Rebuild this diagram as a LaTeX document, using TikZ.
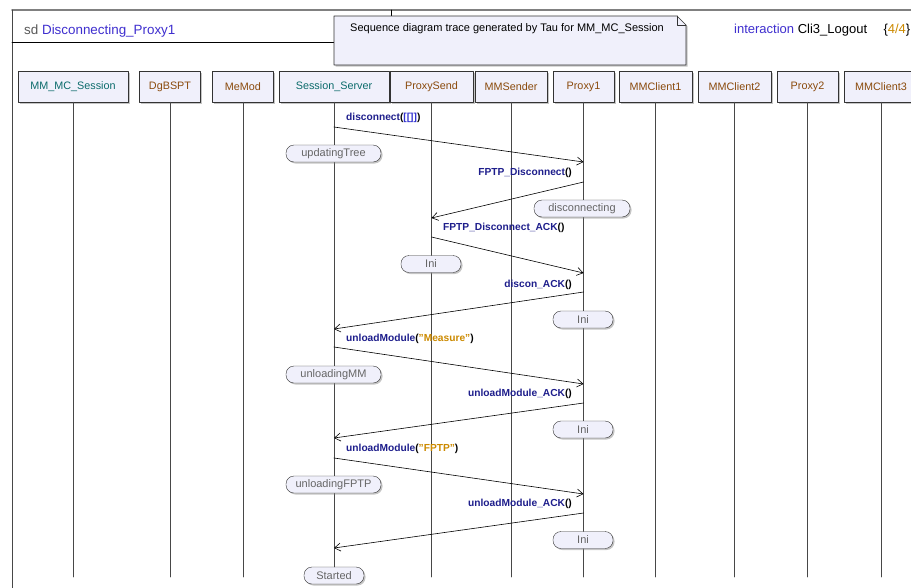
\documentclass[tikz,border=0pt]{standalone}
\usepackage{fontspec}
\setmainfont{Liberation Sans}
\usepackage{tikz}
\usetikzlibrary{arrows.meta,shadows}
\definecolor{boxfill}{HTML}{F0F0FB}
\definecolor{framegray}{HTML}{808080}
\definecolor{lifegray}{HTML}{474747}
\definecolor{teal}{HTML}{0B6B6B}
\definecolor{brown}{HTML}{8A4A0C}
\definecolor{navy}{HTML}{1E1E8C}
\definecolor{argblue}{HTML}{3333D0}
\definecolor{strorange}{HTML}{CC8A00}
\definecolor{titleblue}{HTML}{3F2FCF}
\definecolor{stategray}{HTML}{666666}
\tikzset{
  every picture/.style={line join=round, line cap=round},
  head/.style={draw=black!80, fill=boxfill, minimum height=31pt, inner sep=0pt,
    font=\fontsize{10.8}{12}\selectfont,
    drop shadow={shadow xshift=1.5pt, shadow yshift=-1.5pt, opacity=.45}},
  life/.style={draw=lifegray, line width=0.8pt},
  state/.style={draw=black!80, fill=boxfill, rounded corners=8pt, minimum height=17pt,
    inner sep=0pt, text=stategray, font=\fontsize{11}{12}\selectfont,
    drop shadow={shadow xshift=1.5pt, shadow yshift=-1.5pt, opacity=.45}},
  msg/.style={draw=black, line width=0.6pt, -{Straight Barb[length=6pt, width=8pt]}},
  msglbl/.style={inner sep=0pt, font=\fontsize{10.2}{12}\selectfont\bfseries},
}
\newcommand{\mname}[1]{\textcolor{navy}{#1}}
\newcommand{\sarg}[1]{\textcolor{strorange}{"#1"}}

\begin{document}
\begin{tikzpicture}[x=1pt,y=-1pt]
\useasboundingbox (0,0) rectangle (911,587);
\fill[white] (0,0) rectangle (911,587);

\draw[framegray, line width=1.8pt] (12,10) -- (915,10);
\draw[lifegray, line width=0.9pt] (12,10) -- (12,590);
\draw[black, line width=0.6pt] (12,42) -- (334,42) (391,10) -- (391,16);
\node[anchor=west, inner sep=0pt, font=\fontsize{13.4}{15}\selectfont] (title) at (24,31)
  {\textcolor{black!65}{sd} \textcolor{titleblue}{Disconnecting\_Proxy1}};
\node[anchor=west, inner sep=0pt, font=\fontsize{13}{15}\selectfont] (inter) at (734,30)
  {\textcolor{titleblue}{interaction} Cli3\_Logout};
\node[anchor=east, inner sep=0pt, font=\fontsize{13}{15}\selectfont] (page) at (910.5,30)
  {\{\textcolor{strorange}{4/4}\}};

\filldraw[draw=black!80, fill=boxfill, line width=0.6pt,
  drop shadow={shadow xshift=1.5pt, shadow yshift=-1.5pt, opacity=.45}]
  (334,16) -- (677,16) -- (686,25) -- (686,65) -- (334,65) -- cycle;
\draw[black!80, line width=0.6pt] (677,16) -- (677,25) -- (686,25);
\node[anchor=west, inner sep=0pt, font=\fontsize{11}{12}\selectfont] (note) at (350,29)
  {Sequence diagram trace generated by Tau for MM\_MC\_Session};

\foreach \n/\x/\w/\c/\t in {mmc/73/110/teal/MM\_MC\_Session, dgb/170/61/brown/DgBSPT,
    mem/243/61/brown/MeMod, ses/334/110/teal/Session\_Server, pxs/431.5/83/brown/ProxySend,
    mms/511/72/brown/MMSender, px1/583.5/61/brown/Proxy1, mc1/655.5/73/brown/MMClient1,
    mc2/734.5/73/brown/MMClient2, px2/807.5/61/brown/Proxy2, mc3/881/74/brown/MMClient3}
  \node[head, minimum width=\w pt, text=\c] (\n) at (\x,86.5) {\t};

\node[state, minimum width=60pt] (started) at (334,575.5) {Started};
\foreach \n in {mmc,dgb,mem,pxs,mms,px1,mc1,mc2,px2,mc3}
  \draw[life] (\n.south) -- (\n.south |- 0,577);
\draw[life] (ses.south) -- (started.north);

\foreach \i/\a/\ya/\b/\yb in {1/ses/127/px1/162, 2/px1/182/pxs/218, 3/pxs/237/px1/273,
    4/px1/292/ses/329, 5/ses/347/px1/384, 6/px1/403/ses/438, 7/ses/458/px1/494,
    8/px1/513/ses/548}{
  \coordinate (s\i) at (\a |- 0,\ya);
  \coordinate (e\i) at (\b |- 0,\yb);
  \draw[msg] (s\i) -- (e\i);
}

\node[msglbl, anchor=west] (l1) at (346,118) {\mname{disconnect}(\textcolor{argblue}{[[]]})};
\node[msglbl, anchor=east] (l2) at (572,173) {\mname{FPTP\_Disconnect}()};
\node[msglbl, anchor=west] (l3) at (443,228) {\mname{FPTP\_Disconnect\_ACK}()};
\node[msglbl, anchor=east] (l4) at (572,285) {\mname{discon\_ACK}()};
\node[msglbl, anchor=west] (l5) at (346,339) {\mname{unloadModule}(\sarg{Measure})};
\node[msglbl, anchor=east] (l6) at (572,394) {\mname{unloadModule\_ACK}()};
\node[msglbl, anchor=west] (l7) at (346,449) {\mname{unloadModule}(\sarg{FPTP})};
\node[msglbl, anchor=east] (l8) at (572,504) {\mname{unloadModule\_ACK}()};

\node[state, minimum width=95pt] (upd) at (333.5,153.5) {updatingTree};
\node[state, minimum width=96pt] (dis) at (582,208.5) {disconnecting};
\node[state, minimum width=60pt] (ini1) at (431,264) {Ini};
\node[state, minimum width=60pt] (ini2) at (583,319.5) {Ini};
\node[state, minimum width=95pt] (umm) at (333.5,374.5) {unloadingMM};
\node[state, minimum width=60pt] (ini3) at (583,429.5) {Ini};
\node[state, minimum width=95pt] (ufp) at (333.5,484.5) {unloadingFPTP};
\node[state, minimum width=60pt] (ini4) at (583,540) {Ini};
\end{tikzpicture}
\end{document}
